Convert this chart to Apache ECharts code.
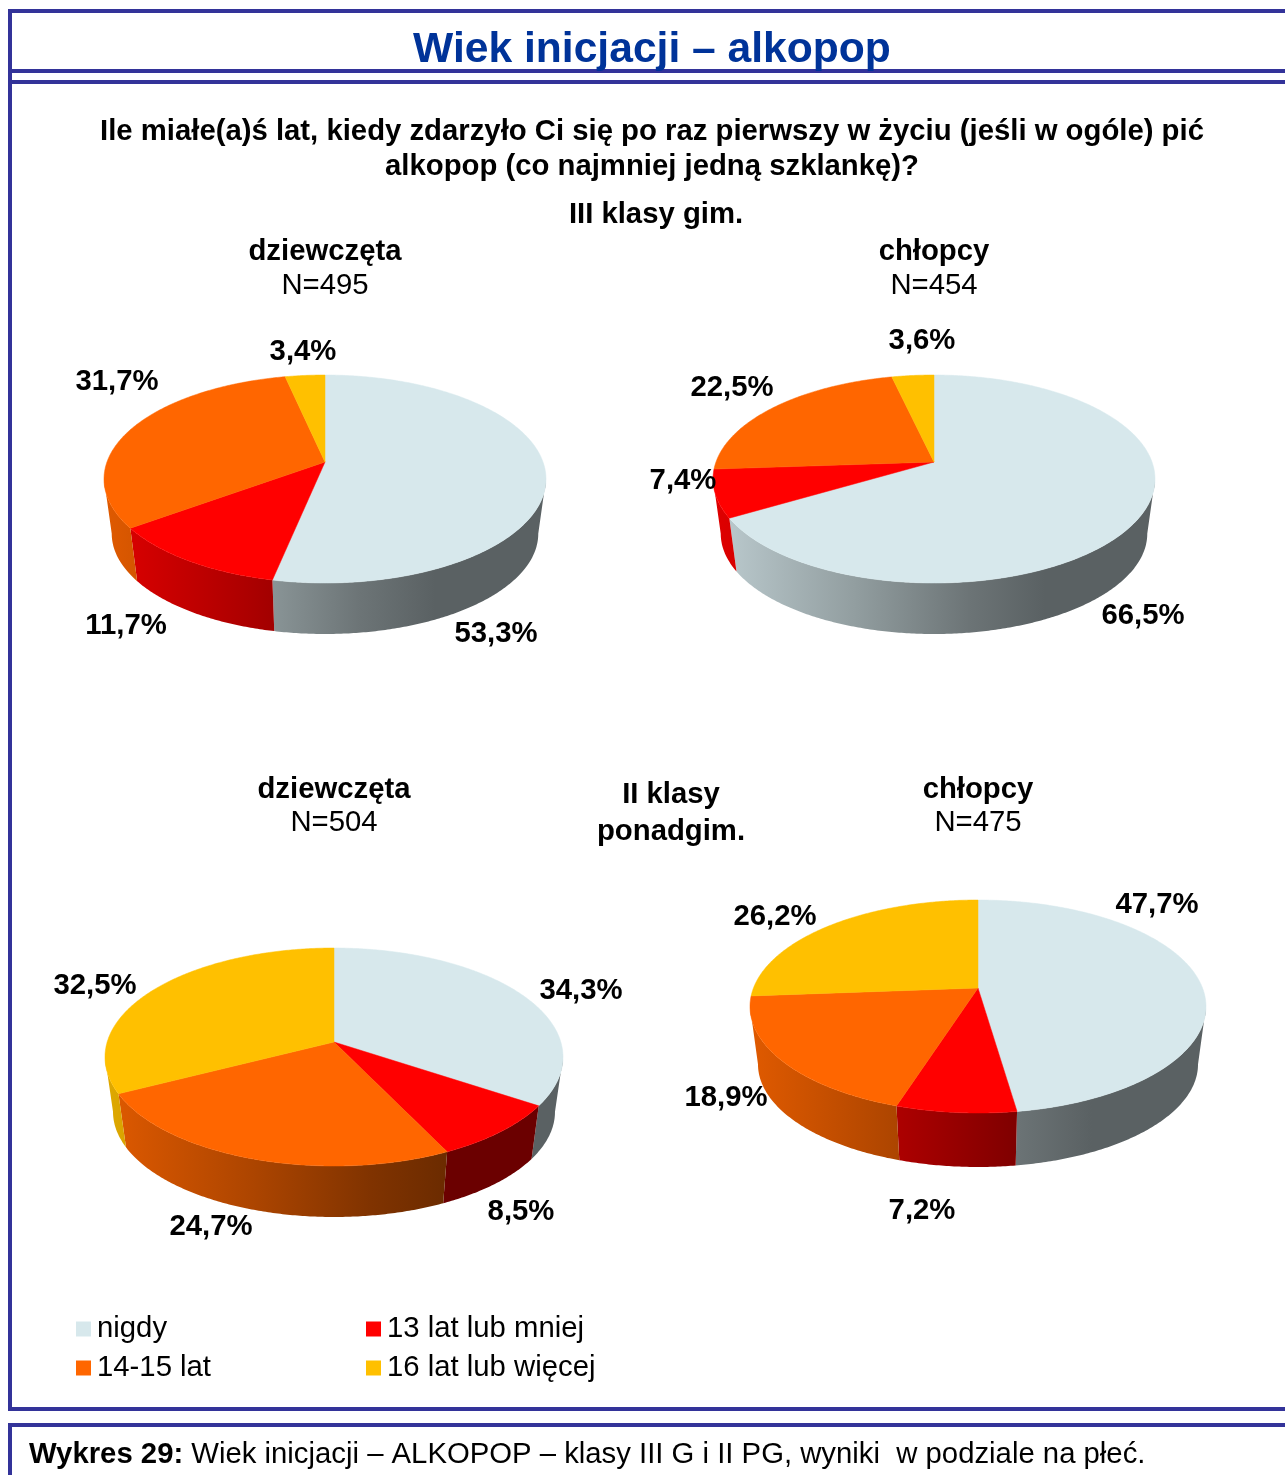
<!DOCTYPE html>
<html>
<head>
<meta charset="utf-8">
<title>Wiek inicjacji - alkopop</title>
<script src="https://cdn.jsdelivr.net/npm/echarts@6/dist/echarts.min.js"></script>
<style>
html, body { margin: 0; padding: 0; background: #fff; overflow: hidden; }
#chart { width: 1285px; height: 1475px; }
</style>
</head>
<body>
<div id="chart"></div>
<script>
// order of the pies: III gim. girls, III gim. boys, II ponadgim. girls, II ponadgim. boys
var categories = ['nigdy', '13 lat lub mniej', '14-15 lat', '16 lat lub więcej'];
var nigdy = [53.3, 66.5, 34.3, 47.7];
var lat13 = [11.7, 7.4, 8.5, 7.2];
var lat1415 = [31.7, 22.5, 24.7, 18.9];
var lat16 = [3.4, 3.6, 32.5, 26.2];
var seriesValues = [nigdy, lat13, lat1415, lat16];
var colors = ['#d7e8ec', '#ff0000', '#ff6600', '#ffc000'];

// apex of each pie plus how far the tilted rim reaches from it
var pieLayout = [
    { cx: 325, cy: 462, rx: 221, up: 87, down: 121, depth: 51 },
    { cx: 934, cy: 462, rx: 221, up: 87, down: 121, depth: 51 },
    { cx: 334, cy: 1042, rx: 229, up: 94, down: 124, depth: 51 },
    { cx: 978, cy: 988, rx: 228, up: 88, down: 125, depth: 54 }
];

// centre of each value label, [series][pie]
var labelPos = [
    [[496, 634], [1143, 616], [581, 991], [1157, 905]],
    [[126, 626], [683, 481], [521, 1212], [922, 1211]],
    [[117, 382], [732, 388], [211, 1227], [726, 1098]],
    [[303, 352], [922, 341], [95, 986], [775, 917]]
];

// the bottom disc looks slightly smaller than the top one
var lowScale = 0.965;

// brightness of the wall from the left to the right edge of a pie
var wallShade = [[0, 0.88], [0.32, 0.68], [0.58, 0.5], [0.75, 0.42], [1, 0.42]];

var fontSize = 29.3;

function projector(p) {
    var c = (p.down - p.up) / (p.down + p.up);
    var a = p.down * (1 - c);
    var d = p.rx * Math.sqrt(1 - c * c);
    return {
        c: c,
        at: function (t) {
            var u = Math.sin(t), v = -Math.cos(t), k = 1 - c * v;
            return [p.cx + d * u / k, p.cy + a * v / k];
        }
    };
}

function arcPoints(pr, t0, t1) {
    var n = Math.max(2, Math.ceil((t1 - t0) / 0.01));
    var pts = [];
    for (var i = 0; i <= n; i++) {
        pts.push(pr.at(t0 + (t1 - t0) * i / n));
    }
    return pts;
}

function shade(hex, k) {
    var r = parseInt(hex.substr(1, 2), 16), g = parseInt(hex.substr(3, 2), 16), b = parseInt(hex.substr(5, 2), 16);
    return 'rgb(' + Math.round(r * k) + ',' + Math.round(g * k) + ',' + Math.round(b * k) + ')';
}

function renderSlice(params) {
    var s = params.seriesIndex, i = params.dataIndex, p = pieLayout[i];
    var total = 0, before = 0;
    seriesValues.forEach(function (vals, k) {
        total += vals[i];
        if (k < s) before += vals[i];
    });
    var value = seriesValues[s][i];
    var t0 = before / total * Math.PI * 2;
    var t1 = (before + value) / total * Math.PI * 2;
    var pr = projector(p);
    var children = [];

    // outer wall, only the part of the rim facing the viewer
    var tR = Math.acos(-pr.c), tL = Math.PI * 2 - tR;
    var w0 = Math.max(t0, tR), w1 = Math.min(t1, tL);
    if (w1 > w0) {
        var rim = arcPoints(pr, w0, w1);
        var low = rim.map(function (q) {
            return [
                p.cx + (q[0] - p.cx) * lowScale,
                p.cy + (q[1] - p.cy) * lowScale + p.depth + p.down * (1 - lowScale)
            ];
        }).reverse();
        children.push({
            type: 'polygon',
            shape: { points: rim.concat(low) },
            style: {
                fill: new echarts.graphic.LinearGradient(p.cx - p.rx, 0, p.cx + p.rx, 0,
                    wallShade.map(function (w) { return { offset: w[0], color: shade(colors[s], w[1]) }; }), true)
            },
            z2: 1
        });
    }

    // top surface
    children.push({
        type: 'polygon',
        shape: { points: [[p.cx, p.cy]].concat(arcPoints(pr, t0, t1)) },
        style: { fill: colors[s], stroke: colors[s], lineWidth: 0.5 },
        z2: 2
    });

    children.push({
        type: 'text',
        style: {
            text: value.toFixed(1).replace('.', ',') + '%',
            x: labelPos[s][i][0],
            y: labelPos[s][i][1],
            align: 'center',
            verticalAlign: 'middle',
            font: 'bold ' + fontSize + 'px "Liberation Sans"',
            fill: '#000'
        },
        z2: 100
    });
    return { type: 'group', children: children };
}

function txt(text, x, y, size, bold, color) {
    return {
        type: 'text',
        style: {
            text: text,
            x: x,
            y: y,
            align: 'center',
            verticalAlign: 'middle',
            font: (bold ? 'bold ' : '') + size + 'px "Liberation Sans"',
            fill: color || '#000'
        }
    };
}

function bar(x, y, w, h) {
    return { type: 'rect', shape: { x: x, y: y, width: w, height: h }, style: { fill: '#333399' } };
}

var chart = echarts.init(document.getElementById('chart'));

var legendText = { fontFamily: 'Liberation Sans', fontSize: 29.3, lineHeight: 30, color: '#000', padding: [0, 0, 0, 1] };

var option = {
    backgroundColor: '#fff',
    animation: false,
    legend: [
        {
            left: 71, top: 1309, orient: 'vertical', icon: 'rect', itemWidth: 15, itemHeight: 15, itemGap: 9,
            data: [categories[0], categories[2]],
            textStyle: legendText
        },
        {
            left: 361, top: 1309, orient: 'vertical', icon: 'rect', itemWidth: 15, itemHeight: 15, itemGap: 9,
            data: [categories[1], categories[3]],
            textStyle: legendText
        }
    ],
    graphic: [
        bar(8, 9, 1277, 4),
        bar(8, 9, 4, 1402),
        bar(8, 69, 1277, 4),
        bar(8, 80, 1277, 4),
        bar(8, 1407, 1277, 4),
        bar(8, 1423, 1277, 4),
        bar(8, 1423, 4, 52),
        txt('Wiek inicjacji – alkopop', 652, 50, 42.6, true, '#003399'),
        txt('Ile miałe(a)ś lat, kiedy zdarzyło Ci się po raz pierwszy w życiu (jeśli w ogóle) pić', 652, 132, fontSize, true),
        txt('alkopop (co najmniej jedną szklankę)?', 652, 167, fontSize, true),
        txt('III klasy gim.', 656, 215, fontSize, true),
        txt('dziewczęta', 325, 252, fontSize, true),
        txt('N=495', 325, 286, fontSize, false),
        txt('chłopcy', 934, 252, fontSize, true),
        txt('N=454', 934, 286, fontSize, false),
        txt('dziewczęta', 334, 790, fontSize, true),
        txt('N=504', 334, 823, fontSize, false),
        txt('II klasy', 671, 795, fontSize, true),
        txt('ponadgim.', 671, 832, fontSize, true),
        txt('chłopcy', 978, 790, fontSize, true),
        txt('N=475', 978, 823, fontSize, false),
        {
            type: 'text',
            style: {
                x: 29,
                y: 1455,
                verticalAlign: 'middle',
                text: '{b|Wykres 29:} Wiek inicjacji – ALKOPOP – klasy III G i II PG, wyniki  w podziale na płeć.',
                font: fontSize + 'px "Liberation Sans"',
                fill: '#000',
                rich: { b: { font: 'bold ' + fontSize + 'px "Liberation Sans"', fill: '#000' } }
            }
        }
    ],
    series: categories.map(function (name, s) {
        return {
            name: name,
            type: 'custom',
            coordinateSystem: 'none',
            itemStyle: { color: colors[s] },
            renderItem: renderSlice,
            data: seriesValues[s],
            silent: true
        };
    })
};

chart.setOption(option);
window.addEventListener('resize', function () {
    chart.resize();
});
</script>
</body>
</html>
